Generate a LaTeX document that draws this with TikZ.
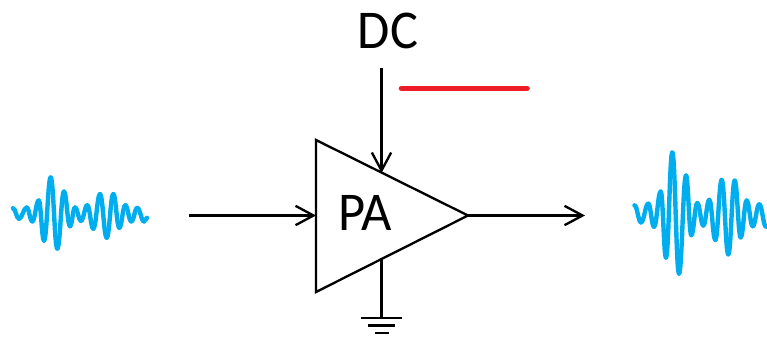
\documentclass[tikz,border=0pt]{standalone}
\usepackage{fontspec}
\setmainfont{Carlito}
\usetikzlibrary{arrows.meta}
\definecolor{wave}{RGB}{0,174,239}
\definecolor{redbar}{RGB}{237,28,36}
\begin{document}
\begin{tikzpicture}[x=0.75pt,y=-0.75pt,
  wire/.style={line width=1.75pt,black},
  arrowwire/.style={wire,-{Straight Barb[length=13.5pt,width=14.5pt,line width=1.75pt]}},
  wavestroke/.style={line width=3.3pt,wave,line cap=round},
  label/.style={font=\fontsize{41}{41}\selectfont,inner sep=0pt,anchor=center,xscale=0.96}]
\useasboundingbox (0,0) rectangle (767,337);
% waves
\foreach \a/\b/\c/\d in {
 13/208/19/219, 19/219/26.7/207.3, 26.7/207.3/32.3/221.7, 32.3/221.7/38.7/200,
 38.7/200/44/241.7, 44/241.7/50.7/176, 50.7/176/57.3/250, 57.3/250/64/190.7,
 64/190.7/70/226.7, 70/226.7/75/207.3, 75/207.3/81/221, 81/221/87.3/205,
 87.3/205/93.3/229.3, 93.3/229.3/100/193.3, 100/193.3/106.7/238.7, 106.7/238.7/113.3/193.3,
 113.3/193.3/119.3/228.3, 119.3/228.3/125.3/205, 125.3/205/131.3/221.7, 131.3/221.7/137.3/207.7,
 137.3/207.7/144/221.7, 144/221.7/147/218,
 634.5/205/641/222.7, 641/222.7/648.3/203.3, 648.3/203.3/654/227.3, 654/227.3/660.7/190.7,
 660.7/190.7/666/259.3, 666/259.3/672.3/150, 672.3/150/679/276, 679/276/686/174,
 686/174/691.3/236, 691.3/236/697.3/202.7, 697.3/202.7/703.3/226, 703.3/226/709.3/199.3,
 709.3/199.3/715.3/241, 715.3/241/721.7/178.7, 721.7/178.7/728.3/256, 728.3/256/734.7/179.3,
 734.7/179.3/740.7/238.3, 740.7/238.3/746.7/200, 746.7/200/752.7/226.7, 752.7/226.7/759.3/204,
 759.3/204/766/227.3}
 \draw[wavestroke] (\a,{213.5+0.96*(\b-213.5)}) .. controls ({\a+0.42*(\c-\a)},{213.5+0.96*(\b-213.5)}) and ({\c-0.42*(\c-\a)},{213.5+0.96*(\d-213.5)}) .. (\c,{213.5+0.96*(\d-213.5)});
% amplifier
\coordinate (tl) at (316,140);
\coordinate (bl) at (316,292);
\coordinate (tip) at (468,215.5);
\coordinate (inpt) at (316,215.5);
\coordinate (instart) at (189,215.5);
\coordinate (outend) at (585,215.5);
\coordinate (dcstart) at (381.5,68);
\coordinate (dcend) at (381.5,173);
\coordinate (gtop) at (381.5,258);
\coordinate (g1) at (381.5,318);
\draw[wire,line join=miter] (tl) -- (tip) -- (bl) -- cycle;
\draw[arrowwire] (instart) -- (inpt);
\draw[arrowwire] (tip) -- (outend);
\draw[arrowwire] (dcstart) -- (dcend);
\draw[wire] (gtop) -- (g1);
\draw[wire] (361,318) -- (402,318);
\draw[wire] (368,325.5) -- (395,325.5);
\draw[wire] (375,333) -- (388.5,333);
\draw[line width=4.2pt,redbar,line cap=round] (401.5,88.3) -- (527,88.3);
\node[label] (dc) at (388,30.5) {DC};
\node[label] (pa) at (365,212.5) {PA};
\end{tikzpicture}
\end{document}
